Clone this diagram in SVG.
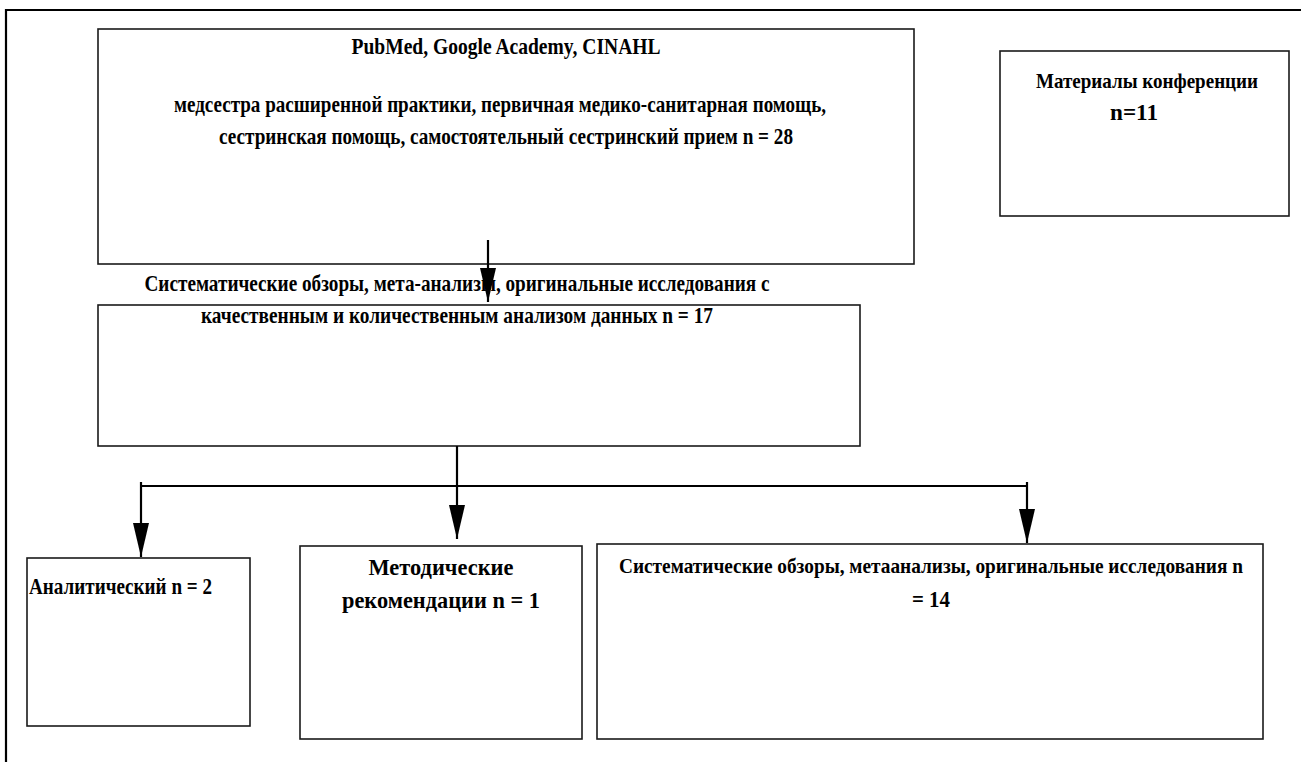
<svg xmlns="http://www.w3.org/2000/svg" width="1301" height="762" viewBox="0 0 1301 762">
  <style>
    .box { fill: #ffffff; stroke: #1a1a1a; stroke-width: 1.6; }
    .frame { fill: none; stroke: #000000; stroke-width: 2.2; }
    .conn { fill: none; stroke: #000000; stroke-width: 2.2; }
    .t { font-family: "Liberation Serif", "Times New Roman", serif; font-weight: bold; font-size: 23px; fill: #000000; }
    .s { font-size: 21px; }
  </style>
  <defs>
    <marker id="arrow" markerUnits="userSpaceOnUse" markerWidth="36" markerHeight="18" viewBox="0 -9 36 18" refX="34" refY="0" orient="auto">
      <path d="M0,-8 L34,0 L0,8 z" fill="#000000"/>
    </marker>
  </defs>
  <rect x="0" y="0" width="1301" height="762" fill="#ffffff"/>

  <g id="frame">
    <path class="frame" d="M6,762 L6,10 L1301,10"/>
  </g>

  <g id="node-search">
    <rect class="box" x="98" y="29" width="816" height="235"/>
    <text class="t" x="506" y="54" text-anchor="middle" textLength="309" lengthAdjust="spacingAndGlyphs">PubMed, Google Academy, CINAHL</text>
    <text class="t" x="500" y="112" text-anchor="middle" textLength="652" lengthAdjust="spacingAndGlyphs">медсестра расширенной практики, первичная медико-санитарная помощь,</text>
    <text class="t" x="506" y="144" text-anchor="middle" textLength="574" lengthAdjust="spacingAndGlyphs">сестринская помощь, самостоятельный сестринский прием n = 28</text>
  </g>

  <g id="node-conference">
    <rect class="box" x="1000" y="51" width="289" height="165"/>
    <text class="t s" x="1147" y="88" text-anchor="middle" textLength="222" lengthAdjust="spacingAndGlyphs">Материалы конференции</text>
    <text class="t" x="1134" y="120" text-anchor="middle" font-size="24" textLength="48" lengthAdjust="spacingAndGlyphs">n=11</text>
  </g>

  <g id="node-filtered">
    <rect class="box" x="98" y="305" width="762" height="141"/>
    <text class="t" x="457" y="323" text-anchor="middle" textLength="512" lengthAdjust="spacingAndGlyphs">качественным и количественным анализом данных n = 17</text>
  </g>

  <g id="label-filtered">
    <text class="t" x="457" y="291" text-anchor="middle" textLength="625" lengthAdjust="spacingAndGlyphs">Систематические обзоры, мета-анализы, оригинальные исследования с</text>
  </g>

  <g id="node-analytic">
    <rect class="box" x="27" y="558" width="223" height="168"/>
    <text class="t" x="29" y="594" textLength="183" lengthAdjust="spacingAndGlyphs">Аналитический n = 2</text>
  </g>

  <g id="node-guidelines">
    <rect class="box" x="300" y="546" width="282" height="193"/>
    <text class="t" x="441" y="575" text-anchor="middle" textLength="145" lengthAdjust="spacingAndGlyphs">Методические</text>
    <text class="t" x="441" y="608" text-anchor="middle" textLength="198" lengthAdjust="spacingAndGlyphs">рекомендации n = 1</text>
  </g>

  <g id="node-reviews">
    <rect class="box" x="597" y="544" width="666" height="195"/>
    <text class="t s" x="931" y="573" text-anchor="middle" textLength="624" lengthAdjust="spacingAndGlyphs">Систематические обзоры, метаанализы, оригинальные исследования n</text>
    <text class="t" x="931" y="607" text-anchor="middle" textLength="38" lengthAdjust="spacingAndGlyphs">= 14</text>
  </g>

  <g id="connectors">
    <line class="conn" x1="488" y1="240" x2="488" y2="302" marker-end="url(#arrow)"/>
    <line class="conn" x1="457" y1="446" x2="457" y2="539" marker-end="url(#arrow)"/>
    <line class="conn" x1="141" y1="486" x2="1027" y2="486"/>
    <line class="conn" x1="141" y1="482" x2="141" y2="557" marker-end="url(#arrow)"/>
    <line class="conn" x1="1027" y1="482" x2="1027" y2="543" marker-end="url(#arrow)"/>
  </g>
</svg>
